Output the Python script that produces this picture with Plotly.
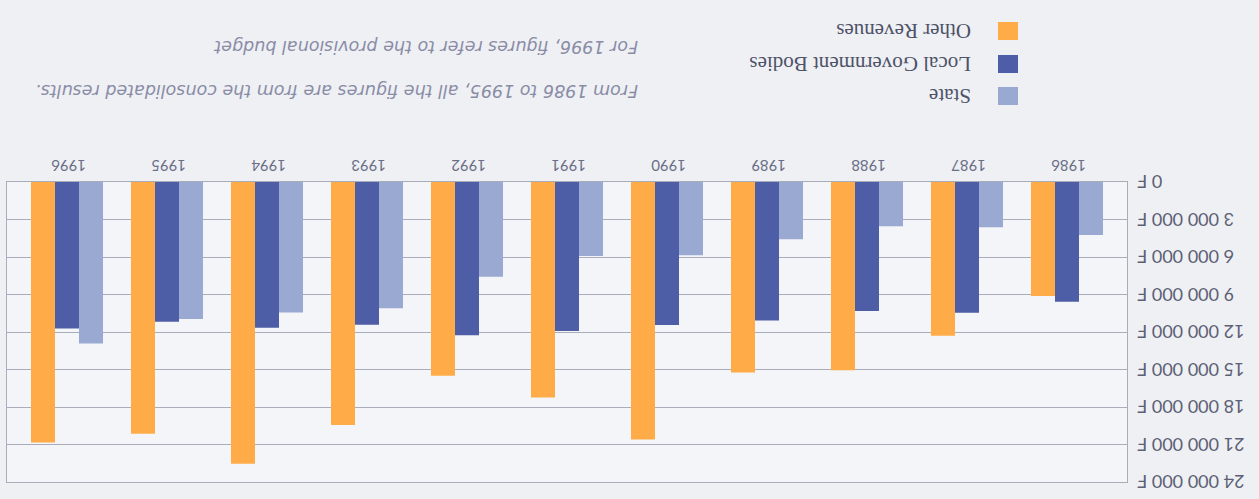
import plotly.graph_objects as go

years = ['1986', '1987', '1988', '1989', '1990', '1991', '1992', '1993', '1994', '1995', '1996']
state = [4230000, 3610000, 3530000, 4570000, 5850000, 5910000, 7570000, 10100000, 10430000, 10960000, 12910000]
local_gov = [9570000, 10460000, 10320000, 11070000, 11440000, 11920000, 12250000, 11420000, 11660000, 11180000, 11710000]
other_rev = [9120000, 12300000, 15050000, 15240000, 20600000, 17240000, 15500000, 19440000, 22530000, 20130000, 20830000]

tick_vals = [0, 3000000, 6000000, 9000000, 12000000, 15000000, 18000000, 21000000, 24000000]
tick_text = ['0 F', '3 000 000 F', '6 000 000 F', '9 000 000 F', '12 000 000 F',
             '15 000 000 F', '18 000 000 F', '21 000 000 F', '24 000 000 F']

series_names = ['State', 'Local Government Bodies', 'Other Revenues']
colors = ['#9aa9d2', '#4e5ea6', '#ffac48']
notes = ['For 1996, figures refer to the provisional budget',
         'From 1986 to 1995, all the figures are from the consolidated results.']

W, H = 1259, 499
ML, MR, MT, MB = 7, 10, 182, 17
PW = W - ML - MR           # paper plotting width
PLOT_RIGHT = 1127          # right edge of the plot frame (px)
dom_end = (PLOT_RIGHT - ML) / PW

fig = go.Figure()
for name, vals, col in zip(series_names, [state, local_gov, other_rev], colors):
    fig.add_trace(go.Bar(x=years, y=vals, name=name, marker=dict(color=col, line=dict(width=0))))
# carrier for the label axis (no marks)
fig.add_trace(go.Scatter(x=[], y=[], yaxis='y2', showlegend=False, hoverinfo='skip'))

text_col = '#5c6074'
grid_col = '#a9adbb'
fig.update_layout(
    width=W, height=H,
    margin=dict(l=ML, r=MR, t=MT, b=MB),
    paper_bgcolor='#eef0f4',
    plot_bgcolor='#f3f5f8',
    barmode='group', bargap=0.28, bargroupgap=0,
    showlegend=False,
    xaxis=dict(domain=[0, dom_end], autorange=False, range=[10.6, -0.6], side='top', tickangle=180,
               tickfont=dict(family='Lato', size=15, color='#6a6e86'), ticklabelshift=-19,
               showline=True, linecolor=grid_col, mirror=True, showgrid=False, ticks=''),
    yaxis=dict(range=[24000000, 0], side='right', showticklabels=False,
               tickvals=tick_vals,
               showgrid=True, gridcolor=grid_col, gridwidth=1,
               showline=True, linecolor=grid_col, mirror=True, zeroline=False, ticks=''),
    yaxis2=dict(range=[24000000, 0], overlaying='y', anchor='free',
                position=(1137 - ML) / PW, side='left', tickangle=180,
                tickvals=tick_vals, ticktext=tick_text, ticklabelshift=-5,
                tickfont=dict(family='Lato', size=18, color=text_col),
                showgrid=False, showline=False, zeroline=False, ticks=''),
)

# legend drawn upside down to match the rotated reference
leg_y = [96, 64, 31]
for name, col, yy in zip(series_names, colors, leg_y):
    fig.add_shape(type='rect', xref='paper', yref='paper',
                  x0=(998 - ML) / PW, x1=(1018 - ML) / PW,
                  y0=(H - MB - (yy + 9)) / (H - MT - MB), y1=(H - MB - (yy - 9)) / (H - MT - MB),
                  fillcolor=col, line=dict(width=0))
    fig.add_annotation(xref='paper', yref='paper', x=(973 - ML) / PW, y=(H - MB - yy) / (H - MT - MB),
                       text=name, showarrow=False, textangle=180, xanchor='right', yanchor='middle',
                       font=dict(family='Liberation Serif', size=21, color='#4e5268'))

for txt, yy in zip(notes, [47, 91]):
    fig.add_annotation(xref='paper', yref='paper', x=(640 - ML) / PW, y=(H - MB - yy) / (H - MT - MB),
                       text='<i>' + txt + '</i>', showarrow=False, textangle=180,
                       xanchor='right', yanchor='middle',
                       font=dict(family='DejaVu Sans', size=17.5, color='#8a8ca6'))

fig.write_html('out.html')
